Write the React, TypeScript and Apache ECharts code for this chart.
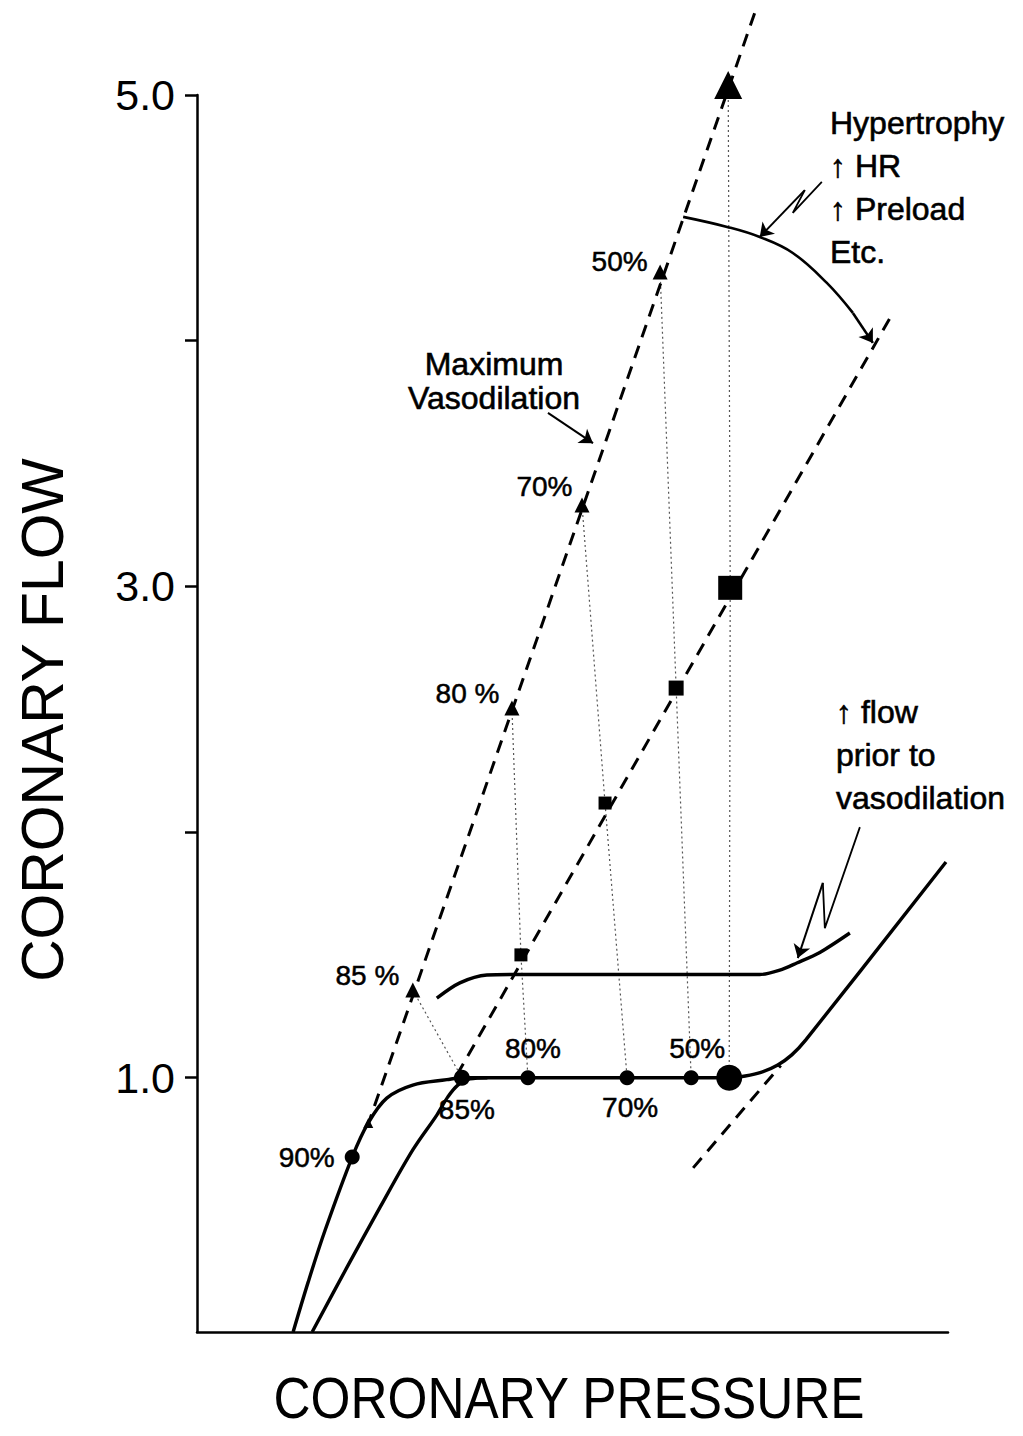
import React, { useEffect, useRef } from "react";
import * as echarts from "echarts";

const FONT = "'Liberation Sans', Arial, sans-serif";

// ---- axes ----
const xMin = 0;
const xMax = 150;
const yMin = -0.035;
const yMax = 5.0;
const yTickValues = [1, 2, 3, 4, 5];
const yLabelValues = [1, 3, 5];
const xAxisTitle = "CORONARY PRESSURE";
const yAxisTitle = "CORONARY FLOW";

// ---- solid curves (pressure, flow) ----
const baseX = [19.2, 22.2, 25.6, 31.0, 34.2, 37.9, 43.1, 49.9, 52.9, 66.1, 85.9, 98.7, 106.3, 109.5, 112.8, 116.0, 118.8, 121.6, 149.6];
const baseY = [-0.035, 0.168, 0.38, 0.677, 0.816, 0.917, 0.97, 0.992, 1.0, 1.0, 1.0, 1.0, 1.0, 1.007, 1.023, 1.052, 1.093, 1.154, 1.878];

const shiftX = [23.0, 30.0, 36.6, 43.1, 47.9, 50.1, 52.1, 54.5, 58.0];
const shiftY = [-0.035, 0.23, 0.474, 0.706, 0.848, 0.922, 0.97, 0.995, 1.0];

const highX = [47.9, 52.5, 57.9, 63.1, 85.0, 112.4, 116.4, 119.8, 124.4, 130.4];
const highY = [1.324, 1.386, 1.418, 1.42, 1.42, 1.42, 1.438, 1.467, 1.51, 1.589];

// ---- dashed lines ----
const maxVasoX = [34.0, 111.5];
const maxVasoY = [0.8, 5.34];
const reducedVasoX = [51.9, 139.0];
const reducedVasoY = [1.011, 4.113];
const tangentX = [99.1, 116.6];
const tangentY = [0.633, 1.05];

// ---- dotted connectors (triangle -> square -> dot) ----
const link85X = [43.1, 52.9];
const link85Y = [1.357, 1.0];
const link80X = [62.9, 64.7, 66.1];
const link80Y = [2.505, 1.5, 1.0];
const link70X = [76.9, 81.5, 85.9];
const link70Y = [3.331, 2.118, 1.0];
const link50X = [92.5, 95.7, 98.7];
const link50Y = [4.28, 2.586, 1.0];
const link100X = [106.1, 106.5, 106.3];
const link100Y = [5.041, 2.994, 1.0];

// ---- markers ----
const triX = [34.2, 43.1, 62.9, 76.9, 92.5, 106.1];
const triY = [0.816, 1.357, 2.505, 3.331, 4.28, 5.041];
const triText = ["", "85 %", "80 %", "70%", "50%", ""];

const sqX = [64.7, 81.5, 95.7, 106.5];
const sqY = [1.5, 2.118, 2.586, 2.994];

const dotX = [31.0, 52.9, 66.1, 85.9, 98.7, 106.3];
const dotY = [0.677, 1.0, 1.0, 1.0, 1.0, 1.0];
const dotText = ["90%", "85%", "80%", "70%", "50%", ""];

// ---- annotation arrows ----
const hyperCurveX = [97.1, 105.9, 112.4, 119.0, 125.8, 131.0];
const hyperCurveY = [4.504, 4.463, 4.422, 4.357, 4.235, 4.113];
const hyperCurveTip = [135.0, 3.991];

const hyperBoltX = [124.8, 119.0, 121.4];
const hyperBoltY = [4.646, 4.52, 4.613];
const hyperBoltTip = [112.4, 4.422];

const flowBoltX = [132.4, 125.4, 125.0];
const flowBoltY = [2.02, 1.609, 1.793];
const flowBoltTip = [120.0, 1.487];

const vasoArrowX = [70.1, 79.1];
const vasoArrowY = [3.706, 3.583];

const vasoText = "Maximum\nVasodilation";
const hyperText = "Hypertrophy\n\u2191 HR\n\u2191 Preload\nEtc.";
const flowText = "\u2191 flow\nprior to\nvasodilation";

const zip = (xs: number[], ys: number[]) => xs.map((x, i) => [x, ys[i]]);
const last = (xs: number[], ys: number[]) => [xs[xs.length - 1], ys[ys.length - 1]];

export default function App() {
  const ref = useRef<HTMLDivElement>(null);

  useEffect(() => {
    if (!ref.current) return;
    const chart = echarts.init(ref.current, undefined, { renderer: "svg" });

    const dotted = (data: number[][]) => ({
      type: "line",
      data,
      symbol: "none",
      clip: false,
      silent: true,
      z: 1,
      lineStyle: { type: [2, 3], width: 1.2, color: "#555" },
    });
    const dashed = (data: number[][]) => ({
      type: "line",
      data,
      symbol: "none",
      clip: false,
      silent: true,
      z: 2,
      lineStyle: { type: [13, 9], width: 3, color: "#000" },
    });
    const solid = (data: number[][], smooth: number | boolean, width = 3.4) => ({
      type: "line",
      data,
      symbol: "none",
      clip: false,
      silent: true,
      smooth,
      z: 3,
      lineStyle: { width, color: "#000" },
    });

    const labelBase = {
      show: true,
      fontSize: 28,
      fontFamily: FONT,
      color: "#000",
      opacity: 1,
      textBorderColor: "#000",
      textBorderWidth: 0.5,
      formatter: "{b}",
    };

    const dotSizes = [15, 16, 15, 15, 15, 26];
    const dotLabelCfg: any[] = [
      { position: "left", distance: 10, offset: [0, 0] },
      { position: "bottom", distance: 10, offset: [5, 0] },
      { position: "top", distance: 8, offset: [5, 0] },
      { position: "bottom", distance: 8, offset: [3, 0] },
      { position: "top", distance: 8, offset: [6, 0] },
      null,
    ];
    const triSizes = [10, 15, 15, 15, 15, 28];
    const triLabelCfg: any[] = [
      null,
      { position: "left", distance: 6, offset: [0, -15] },
      { position: "left", distance: 5, offset: [0, -14] },
      { position: "left", distance: 2, offset: [0, -19] },
      { position: "left", distance: 5, offset: [0, -10] },
      null,
    ];
    const sqSizes = [13, 13, 15, 24];

    const markerStyle = { color: "#000", opacity: 1 };

    const annotStyle = {
      fontSize: 32,
      fontFamily: FONT,
      fill: "#000",
      stroke: "#000",
      lineWidth: 0.6,
    };

    const option: any = {
      animation: false,
      backgroundColor: "#fff",
      grid: { left: 197, top: 95, width: 751, height: 1237, containLabel: false },
      xAxis: {
        type: "value",
        min: xMin,
        max: xMax,
        axisLine: { show: true, onZero: false, lineStyle: { color: "#000", width: 2.5 } },
        axisTick: { show: false },
        axisLabel: { show: false },
        splitLine: { show: false },
      },
      yAxis: {
        type: "value",
        min: yMin,
        max: yMax,
        axisLine: { show: true, onZero: false, lineStyle: { color: "#000", width: 2.5 } },
        axisTick: {
          show: true,
          inside: false,
          length: 12,
          lineStyle: { color: "#000", width: 2.5 },
          customValues: yTickValues,
        },
        axisLabel: {
          show: true,
          customValues: yLabelValues,
          formatter: (v: number) => v.toFixed(1),
          fontSize: 43,
          fontFamily: FONT,
          color: "#000",
          margin: 22,
        },
        splitLine: { show: false },
      },
      series: [
        dotted(zip(link85X, link85Y)),
        dotted(zip(link80X, link80Y)),
        dotted(zip(link70X, link70Y)),
        dotted(zip(link50X, link50Y)),
        dotted(zip(link100X, link100Y)),
        dashed(zip(maxVasoX, maxVasoY)),
        dashed(zip(reducedVasoX, reducedVasoY)),
        dashed(zip(tangentX, tangentY)),
        solid(zip(baseX, baseY), 0.35),
        solid(zip(shiftX, shiftY), 0.35),
        solid(zip(highX, highY), 0.3),
        solid(zip(hyperCurveX, hyperCurveY), 0.4, 2.6),
        {
          type: "line",
          data: zip(hyperBoltX, hyperBoltY),
          symbol: "none",
          clip: false,
          silent: true,
          z: 3,
          lineStyle: { width: 1.8, color: "#000" },
        },
        {
          type: "line",
          data: zip(flowBoltX, flowBoltY),
          symbol: "none",
          clip: false,
          silent: true,
          z: 3,
          lineStyle: { width: 1.8, color: "#000" },
        },
        {
          type: "lines",
          coordinateSystem: "cartesian2d",
          symbol: ["none", "arrow"],
          symbolSize: 13,
          silent: true,
          z: 4,
          lineStyle: { color: "#000", width: 2, opacity: 1, curveness: 0 },
          data: [
            { coords: [last(hyperCurveX, hyperCurveY), hyperCurveTip], lineStyle: { width: 2.6 } },
            { coords: [last(hyperBoltX, hyperBoltY), hyperBoltTip] },
            { coords: [last(flowBoltX, flowBoltY), flowBoltTip] },
            { coords: zip(vasoArrowX, vasoArrowY) },
          ],
        },
        {
          type: "scatter",
          symbol: "triangle",
          clip: false,
          silent: true,
          z: 5,
          itemStyle: markerStyle,
          data: triX.map((x, i) => ({
            name: triText[i],
            value: [x, triY[i]],
            symbolSize: triSizes[i],
            label: triLabelCfg[i] ? { ...labelBase, ...triLabelCfg[i] } : { show: false },
          })),
        },
        {
          type: "scatter",
          symbol: "rect",
          clip: false,
          silent: true,
          z: 5,
          itemStyle: markerStyle,
          data: sqX.map((x, i) => ({ value: [x, sqY[i]], symbolSize: sqSizes[i] })),
        },
        {
          type: "scatter",
          symbol: "circle",
          clip: false,
          silent: true,
          z: 5,
          itemStyle: markerStyle,
          data: dotX.map((x, i) => ({
            name: dotText[i],
            value: [x, dotY[i]],
            symbolSize: dotSizes[i],
            label: dotLabelCfg[i] ? { ...labelBase, ...dotLabelCfg[i] } : { show: false },
          })),
        },
      ],
      graphic: [
        {
          type: "text",
          x: 569,
          y: 1398,
          scaleX: 0.9,
          silent: true,
          style: {
            text: xAxisTitle,
            fontSize: 57,
            fontFamily: FONT,
            fill: "#000",
            align: "center",
            verticalAlign: "middle",
          },
        },
        {
          type: "text",
          x: 42,
          y: 720,
          rotation: Math.PI / 2,
          scaleX: 0.98,
          silent: true,
          style: {
            text: yAxisTitle,
            fontSize: 60,
            fontFamily: FONT,
            fill: "#000",
            align: "center",
            verticalAlign: "middle",
          },
        },
        {
          type: "text",
          x: 494,
          y: 381,
          silent: true,
          style: { ...annotStyle, text: vasoText, lineHeight: 34, align: "center", verticalAlign: "middle" },
        },
        {
          type: "text",
          x: 830,
          y: 101,
          silent: true,
          style: { ...annotStyle, text: hyperText, lineHeight: 43, align: "left", verticalAlign: "top" },
        },
        {
          type: "text",
          x: 836,
          y: 690,
          silent: true,
          style: { ...annotStyle, text: flowText, lineHeight: 43, align: "left", verticalAlign: "top" },
        },
      ],
    };

    chart.setOption(option);
    return () => chart.dispose();
  }, []);

  return (
    <div
      ref={ref}
      style={{ position: "absolute", left: 0, top: 0, width: 1023, height: 1436, background: "#fff" }}
    />
  );
}
